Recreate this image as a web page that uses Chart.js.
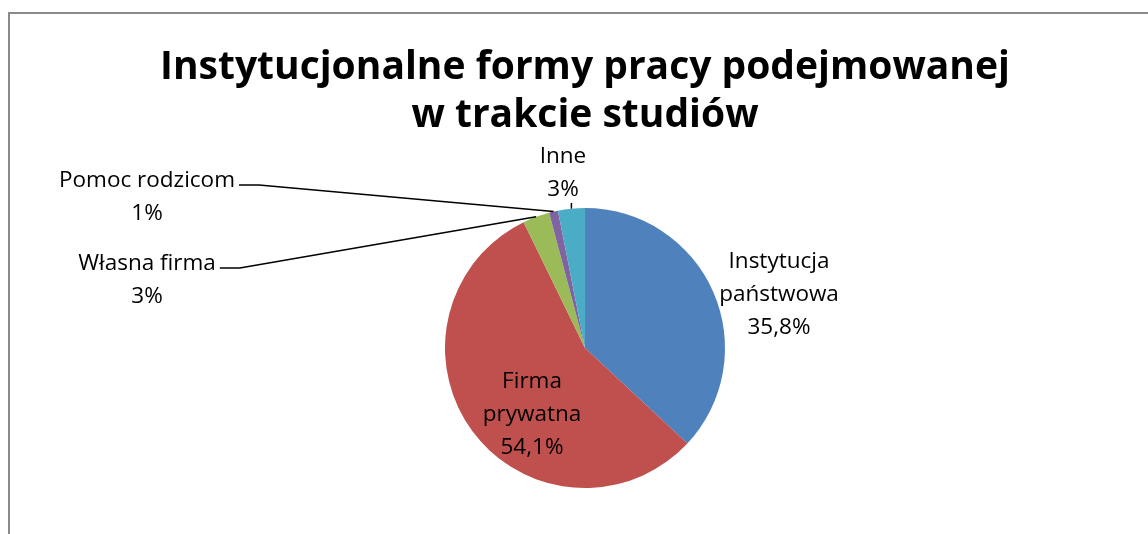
<!DOCTYPE html>
<html lang="pl">
<head>
<meta charset="utf-8">
<title>Instytucjonalne formy pracy podejmowanej w trakcie studiów</title>
<script src="https://cdn.jsdelivr.net/npm/chart.js@4.4.1/dist/chart.umd.min.js"></script>
<style>
  html, body { margin: 0; padding: 0; background: #fff; }
  .wrap { position: relative; width: 1148px; height: 534px; overflow: hidden; }
  .frame {
    position: absolute; left: 8px; top: 12px; right: -10px; bottom: -10px;
    border-left: 2px solid #8a8a8a; border-top: 2px solid #8a8a8a;
  }
  canvas { position: absolute; left: 0; top: 0; }
</style>
</head>
<body>
<div class="wrap">
  <div class="frame"></div>
  <canvas id="chart" width="1148" height="534"></canvas>
</div>
<script>
const titleLines = ['Instytucjonalne formy pracy podejmowanej', 'w trakcie studiów'];
const categories = ['Instytucja państwowa', 'Firma prywatna', 'Własna firma', 'Pomoc rodzicom', 'Inne'];
const labelLines = [['Instytucja', 'państwowa'], ['Firma', 'prywatna'], ['Własna firma'], ['Pomoc rodzicom'], ['Inne']];
const shares = [35.8, 54.1, 3, 1, 3];
const sliceColors = ['#4f81bd', '#c0504d', '#9bbb59', '#8064a2', '#4bacc6'];

// where each data label sits, relative to the pie centre
const labelSpots = [
    { dx: 194, dy: -80 },
    { dx: -53, dy: 40 },
    { dx: -438, dy: -78, leader: 'side' },
    { dx: -438, dy: -161, leader: 'side' },
    { dx: -22, dy: -185, leader: 'below' }
];
const lineGap = 33;

function formatPct(v) {
    return String(v).replace('.', ',') + '%';
}

const sliceLabels = {
    id: 'sliceLabels',
    afterDatasetsDraw(chart) {
        const ctx = chart.ctx;
        const arcs = chart.getDatasetMeta(0).data;
        ctx.save();
        ctx.font = '22.5px "Open Sans"';
        ctx.fillStyle = '#000';
        ctx.strokeStyle = '#000';
        ctx.lineWidth = 1.5;
        ctx.textAlign = 'center';
        ctx.textBaseline = 'alphabetic';

        arcs.forEach((arc, i) => {
            const p = arc.getProps(['x', 'y', 'startAngle', 'endAngle', 'outerRadius'], true);
            const spot = labelSpots[i];
            const lines = labelLines[i].concat(formatPct(shares[i]));
            const cx = p.x + spot.dx;
            const by = p.y + spot.dy;
            lines.forEach((t, k) => ctx.fillText(t, cx, by + k * lineGap));

            const mid = (p.startAngle + p.endAngle) / 2;
            const ex = p.x + Math.cos(mid) * p.outerRadius;
            const ey = p.y + Math.sin(mid) * p.outerRadius;

            if (spot.leader === 'side') {
                const half = ctx.measureText(labelLines[i][0]).width / 2;
                const sx = cx + half + 4;
                const sy = by - 2;
                ctx.beginPath();
                ctx.moveTo(sx, sy);
                ctx.lineTo(sx + 20, sy);
                ctx.lineTo(ex, ey);
                ctx.stroke();
            } else if (spot.leader === 'below') {
                ctx.beginPath();
                ctx.moveTo(ex, by + (lines.length - 1) * lineGap + 7);
                ctx.lineTo(ex, ey);
                ctx.stroke();
            }
        });
        ctx.restore();
    }
};

const ctx = document.getElementById('chart').getContext('2d');
new Chart(ctx, {
    type: 'pie',
    data: {
        labels: categories,
        datasets: [{
            data: shares,
            backgroundColor: sliceColors,
            borderWidth: 0
        }]
    },
    options: {
        responsive: false,
        animation: false,
        events: [],
        layout: { padding: { top: 0, bottom: 46, left: 22, right: 0 } },
        plugins: {
            legend: { display: false },
            tooltip: { enabled: false },
            title: {
                display: true,
                text: titleLines,
                color: '#000',
                font: { family: '"Open Sans"', size: 39, weight: 'bold', lineHeight: '48px' },
                padding: { top: 44, bottom: 68 }
            }
        }
    },
    plugins: [sliceLabels]
});
</script>
</body>
</html>
